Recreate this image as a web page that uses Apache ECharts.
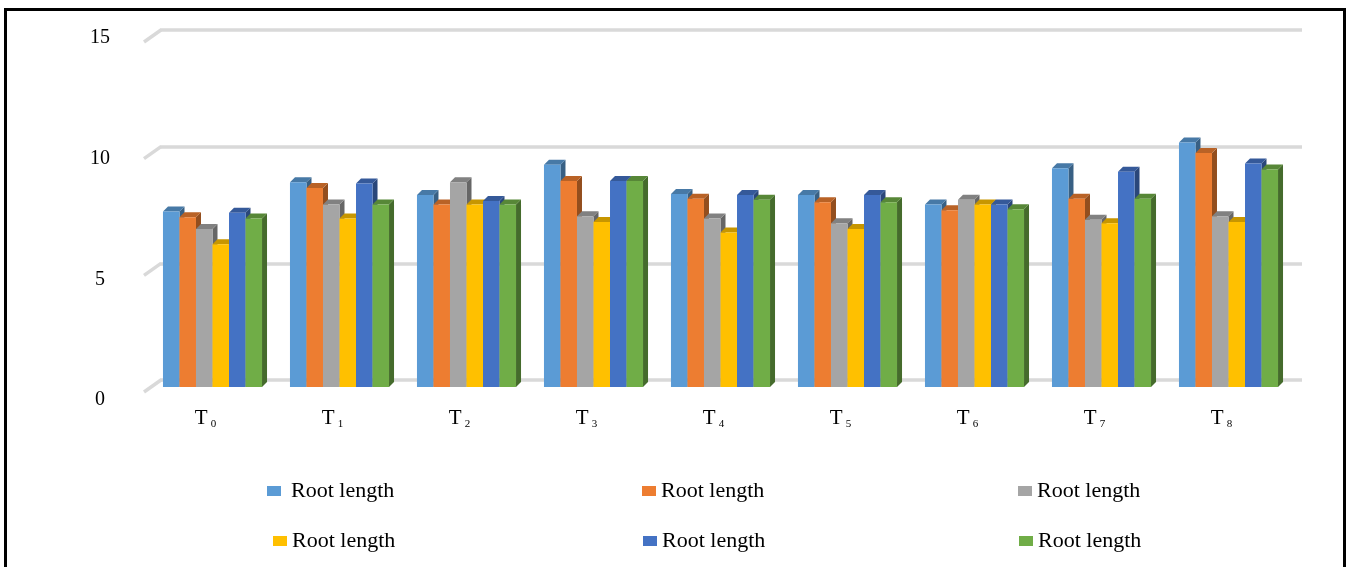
<!DOCTYPE html>
<html>
<head>
<meta charset="utf-8">
<script src="https://cdn.jsdelivr.net/npm/echarts@6/dist/echarts.min.js"></script>
<style>
  html, body { margin: 0; padding: 0; background: #fff; }
  #chart { width: 1350px; height: 567px; }
</style>
</head>
<body>
<div id="chart"></div>
<script>
// Treatments T0..T8 (subscript part of each label)
const treatments = ['0', '1', '2', '3', '4', '5', '6', '7', '8'];
const yTicks = [0, 5, 10, 15];
const legendLabel = 'Root length';
const seriesNames = ['Root length 1', 'Root length 2', 'Root length 3', 'Root length 4', 'Root length 5', 'Root length 6'];

// Root length per treatment, one array per series
const rootLen1 = [7.5, 8.75, 8.2, 9.5, 8.25, 8.2, 7.8, 9.35, 10.45];
const rootLen2 = [7.25, 8.5, 7.8, 8.8, 8.05, 7.9, 7.55, 8.05, 10.0];
const rootLen3 = [6.75, 7.8, 8.75, 7.3, 7.2, 7.0, 8.0, 7.15, 7.3];
const rootLen4 = [6.1, 7.2, 7.8, 7.05, 6.6, 6.75, 7.8, 7.0, 7.05];
const rootLen5 = [7.45, 8.7, 7.95, 8.8, 8.2, 8.2, 7.8, 9.2, 9.55];
const rootLen6 = [7.2, 7.8, 7.8, 8.8, 8.0, 7.9, 7.6, 8.05, 9.3];
const allSeries = [rootLen1, rootLen2, rootLen3, rootLen4, rootLen5, rootLen6];

const colors = ['#5B9BD5', '#ED7D31', '#A5A5A5', '#FFC000', '#4472C4', '#70AD47'];

function shade(hex, f) {
  const n = parseInt(hex.slice(1), 16);
  const r = Math.round(((n >> 16) & 255) * f);
  const g = Math.round(((n >> 8) & 255) * f);
  const b = Math.round((n & 255) * f);
  return 'rgb(' + r + ',' + g + ',' + b + ')';
}

const SERIF = 'Liberation Serif, Times New Roman, serif';
const N = allSeries.length;
const DEPTH = 5;

// Pseudo-3D column: side face, top face, then front face
function renderColumn(sIdx) {
  return function (params, api) {
    const cat = api.value(0);
    const v = api.value(1);
    const base = api.coord([cat, 0]);
    const top = api.coord([cat, v]);
    const band = api.size([1, 0])[0];
    const groupW = band * 0.78;
    const bw = groupW / N;
    const x = base[0] - groupW / 2 + sIdx * bw;
    const yt = top[1], yb = base[1], d = DEPTH;
    const c = colors[sIdx];
    return {
      type: 'group',
      children: [
        { type: 'polygon', shape: { points: [[x + bw, yt], [x + bw + d, yt - d], [x + bw + d, yb - d], [x + bw, yb]] },
          style: { fill: shade(c, 0.62) } },
        { type: 'polygon', shape: { points: [[x, yt], [x + d, yt - d], [x + bw + d, yt - d], [x + bw, yt]] },
          style: { fill: shade(c, 0.78) } },
        { type: 'rect', shape: { x: x, y: yt, width: bw, height: yb - yt }, style: { fill: c } }
      ]
    };
  };
}

// Short slanted stubs at the left end of every gridline (side wall floor)
function renderWallStub(params, api) {
  const y = api.coord([0, api.value(0)])[1];
  const x = params.coordSys.x;
  return {
    type: 'line',
    shape: { x1: x + 1, y1: y, x2: x - 16, y2: y + 12 },
    style: { stroke: '#d9d9d9', lineWidth: 3.5 }
  };
}

const legendLayout = [
  { left: 262, top: 475, pad: 5 },
  { left: 637, top: 475, pad: 0 },
  { left: 1013, top: 475, pad: 0 },
  { left: 268, top: 525, pad: 0 },
  { left: 638, top: 525, pad: 0 },
  { left: 1014, top: 525, pad: 0 }
];

const series = allSeries.map(function (vals, i) {
  return {
    name: seriesNames[i],
    type: 'custom',
    xAxisIndex: 1,
    yAxisIndex: 1,
    itemStyle: { color: colors[i] },
    renderItem: renderColumn(i),
    data: vals.map(function (v, k) { return [k, v]; }),
    z: 3
  };
});

series.push({
  type: 'custom',
  xAxisIndex: 0,
  yAxisIndex: 0,
  renderItem: renderWallStub,
  data: yTicks.map(function (t) { return [t]; }),
  encode: { y: 0 },
  silent: true,
  z: 1
});

const option = {
  backgroundColor: '#ffffff',
  animation: false,
  graphic: [{
    type: 'rect',
    shape: { x: 5.5, y: 9.5, width: 1339, height: 600 },
    style: { fill: 'none', stroke: '#000', lineWidth: 3 },
    z: 100
  }],
  legend: legendLayout.map(function (L, i) {
    return {
      left: L.left,
      top: L.top,
      data: [seriesNames[i]],
      icon: 'rect',
      itemWidth: 14,
      itemHeight: 10,
      selectedMode: false,
      formatter: function () { return legendLabel; },
      textStyle: { fontFamily: SERIF, fontSize: 22, color: '#000', padding: [0, 0, 0, L.pad] }
    };
  }),
  grid: [
    // back wall (gridlines)
    { left: 160, right: 48, top: 30, bottom: 187 },
    // front plane (columns, category labels)
    { left: 149, right: 58, top: 36, bottom: 180 },
    // value labels
    { left: 130, right: 48, top: 38, bottom: 167 }
  ],
  xAxis: [
    { gridIndex: 0, type: 'category', data: treatments, show: false },
    {
      gridIndex: 1, type: 'category', data: treatments,
      axisLine: { show: false }, axisTick: { show: false }, splitLine: { show: false },
      axisLabel: {
        margin: 20,
        padding: [0, 14, 0, 0],
        formatter: function (v) { return '{t|T}{s|' + v + '}'; },
        rich: {
          t: { fontFamily: SERIF, fontSize: 21, color: '#000' },
          s: { fontFamily: SERIF, fontSize: 11, color: '#000', padding: [12, 0, 0, 3] }
        }
      }
    },
    { gridIndex: 2, type: 'category', data: treatments, show: false }
  ],
  yAxis: [
    {
      gridIndex: 0, type: 'value', min: 0, max: 15, interval: 5,
      axisLabel: { show: false }, axisLine: { show: false }, axisTick: { show: false },
      splitLine: { show: true, lineStyle: { color: '#d9d9d9', width: 3.5 } }
    },
    {
      gridIndex: 1, type: 'value', min: 0, max: 15, interval: 5, show: false,
      splitLine: { show: false }
    },
    {
      gridIndex: 2, type: 'value', min: 0, max: 15, interval: 5,
      axisLine: { show: false }, axisTick: { show: false }, splitLine: { show: false },
      axisLabel: { margin: 30, align: 'center', fontFamily: SERIF, fontSize: 20, color: '#000' }
    }
  ],
  series: series
};

const chart = echarts.init(document.getElementById('chart'), null, { renderer: 'canvas' });
chart.setOption(option);
</script>
</body>
</html>
